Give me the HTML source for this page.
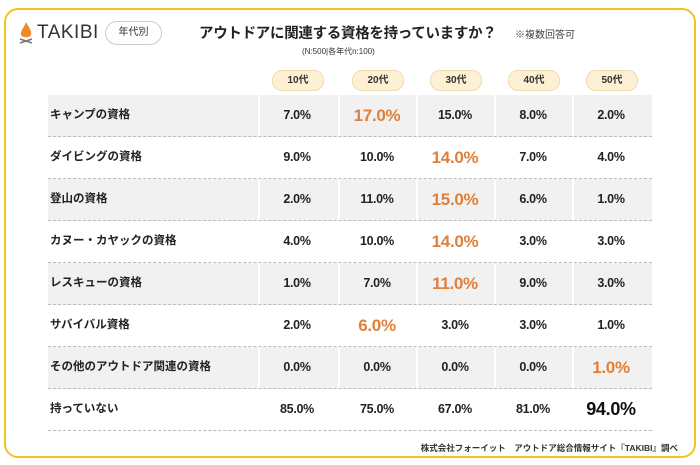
<!DOCTYPE html>
<html><head><meta charset="utf-8"><style>
body{margin:0;width:700px;height:465px;background:#fff;font-family:"Liberation Sans","Noto Sans CJK JP",sans-serif;position:relative;overflow:hidden}
.frame{position:absolute;left:4px;top:8px;width:688px;height:446px;border:2px solid #f3c324;border-radius:14px}
.abs{position:absolute}
.pill{position:absolute;top:70px;width:50px;height:19px;background:#fdf0d3;border:1px solid #eedbb0;border-radius:10px;font-size:10px;font-weight:bold;text-align:center;line-height:19px;color:#333}
.row{position:absolute;left:48px;width:604px;height:41px;border-bottom:1px dashed #bbb}
.row.s{background:#f1f1f1}
.lab{position:absolute;left:2px;top:0;line-height:41px;font-size:11.5px;font-weight:bold;color:#222}
.v{position:absolute;top:0;width:70px;text-align:center;line-height:41px;font-size:12.5px;font-weight:bold;color:#222;letter-spacing:-0.3px}
.o{color:#e0803a;font-size:17px}
.k{font-size:18px;color:#111}
.vl{position:absolute;top:0;width:2px;height:41px;background:#fff}
</style></head><body>
<div class="frame"></div>
<div class="abs" style="left:19px;top:22px;width:14px;height:20px;">
<svg width="14" height="22"><path d="M7 0 C10 6 13 8 12 13 C11 16 3 16 2 13 C1 9 5 6 7 0Z" fill="#f08a2a"/><path d="M1 17 L13 21 M13 17 L1 21" stroke="#777" stroke-width="1.5"/></svg></div>
<div class="abs" style="left:37px;top:22px;font-size:19px;color:#333;letter-spacing:0.5px">TAKIBI</div>
<div class="abs" style="left:105px;top:21px;width:55px;height:22px;border:1px solid #ccc;border-radius:12px;font-size:10px;text-align:center;line-height:22px;color:#333">年代別</div>
<div class="abs" style="left:199px;top:22px;font-size:14.5px;font-weight:bold;color:#222;letter-spacing:-0.3px">アウトドアに関連する資格を持っていますか？</div>
<div class="abs" style="left:515px;top:26px;font-size:10px;color:#444">※複数回答可</div>
<div class="abs" style="left:302px;top:46px;font-size:8px;color:#333">(N:500|各年代n:100)</div>
<div class="pill" style="left:272px">10代</div>
<div class="pill" style="left:352px">20代</div>
<div class="pill" style="left:430px">30代</div>
<div class="pill" style="left:508px">40代</div>
<div class="pill" style="left:586px">50代</div>

<div class="row s" style="top:95px"><div class="lab">キャンプの資格</div><div class="vl" style="left:210px"></div><div class="vl" style="left:290px"></div><div class="vl" style="left:368px"></div><div class="vl" style="left:446px"></div><div class="vl" style="left:524px"></div>
<div class="v" style="left:214px">7.0%</div><div class="v o" style="left:294px">17.0%</div><div class="v" style="left:372px">15.0%</div><div class="v" style="left:450px">8.0%</div><div class="v" style="left:528px">2.0%</div></div>
<div class="row" style="top:137px"><div class="lab">ダイビングの資格</div>
<div class="v" style="left:214px">9.0%</div><div class="v" style="left:294px">10.0%</div><div class="v o" style="left:372px">14.0%</div><div class="v" style="left:450px">7.0%</div><div class="v" style="left:528px">4.0%</div></div>
<div class="row s" style="top:179px"><div class="lab">登山の資格</div><div class="vl" style="left:210px"></div><div class="vl" style="left:290px"></div><div class="vl" style="left:368px"></div><div class="vl" style="left:446px"></div><div class="vl" style="left:524px"></div>
<div class="v" style="left:214px">2.0%</div><div class="v" style="left:294px">11.0%</div><div class="v o" style="left:372px">15.0%</div><div class="v" style="left:450px">6.0%</div><div class="v" style="left:528px">1.0%</div></div>
<div class="row" style="top:221px"><div class="lab">カヌー・カヤックの資格</div>
<div class="v" style="left:214px">4.0%</div><div class="v" style="left:294px">10.0%</div><div class="v o" style="left:372px">14.0%</div><div class="v" style="left:450px">3.0%</div><div class="v" style="left:528px">3.0%</div></div>
<div class="row s" style="top:263px"><div class="lab">レスキューの資格</div><div class="vl" style="left:210px"></div><div class="vl" style="left:290px"></div><div class="vl" style="left:368px"></div><div class="vl" style="left:446px"></div><div class="vl" style="left:524px"></div>
<div class="v" style="left:214px">1.0%</div><div class="v" style="left:294px">7.0%</div><div class="v o" style="left:372px">11.0%</div><div class="v" style="left:450px">9.0%</div><div class="v" style="left:528px">3.0%</div></div>
<div class="row" style="top:305px"><div class="lab">サバイバル資格</div>
<div class="v" style="left:214px">2.0%</div><div class="v o" style="left:294px">6.0%</div><div class="v" style="left:372px">3.0%</div><div class="v" style="left:450px">3.0%</div><div class="v" style="left:528px">1.0%</div></div>
<div class="row s" style="top:347px"><div class="lab">その他のアウトドア関連の資格</div><div class="vl" style="left:210px"></div><div class="vl" style="left:290px"></div><div class="vl" style="left:368px"></div><div class="vl" style="left:446px"></div><div class="vl" style="left:524px"></div>
<div class="v" style="left:214px">0.0%</div><div class="v" style="left:294px">0.0%</div><div class="v" style="left:372px">0.0%</div><div class="v" style="left:450px">0.0%</div><div class="v o" style="left:528px">1.0%</div></div>
<div class="row" style="top:389px"><div class="lab">持っていない</div>
<div class="v" style="left:214px">85.0%</div><div class="v" style="left:294px">75.0%</div><div class="v" style="left:372px">67.0%</div><div class="v" style="left:450px">81.0%</div><div class="v k" style="left:528px">94.0%</div></div>
<div class="abs" style="right:22px;top:442px;font-size:8.5px;font-weight:bold;color:#333">株式会社フォーイット　アウトドア総合情報サイト『TAKIBI』調べ</div>
</body></html>
